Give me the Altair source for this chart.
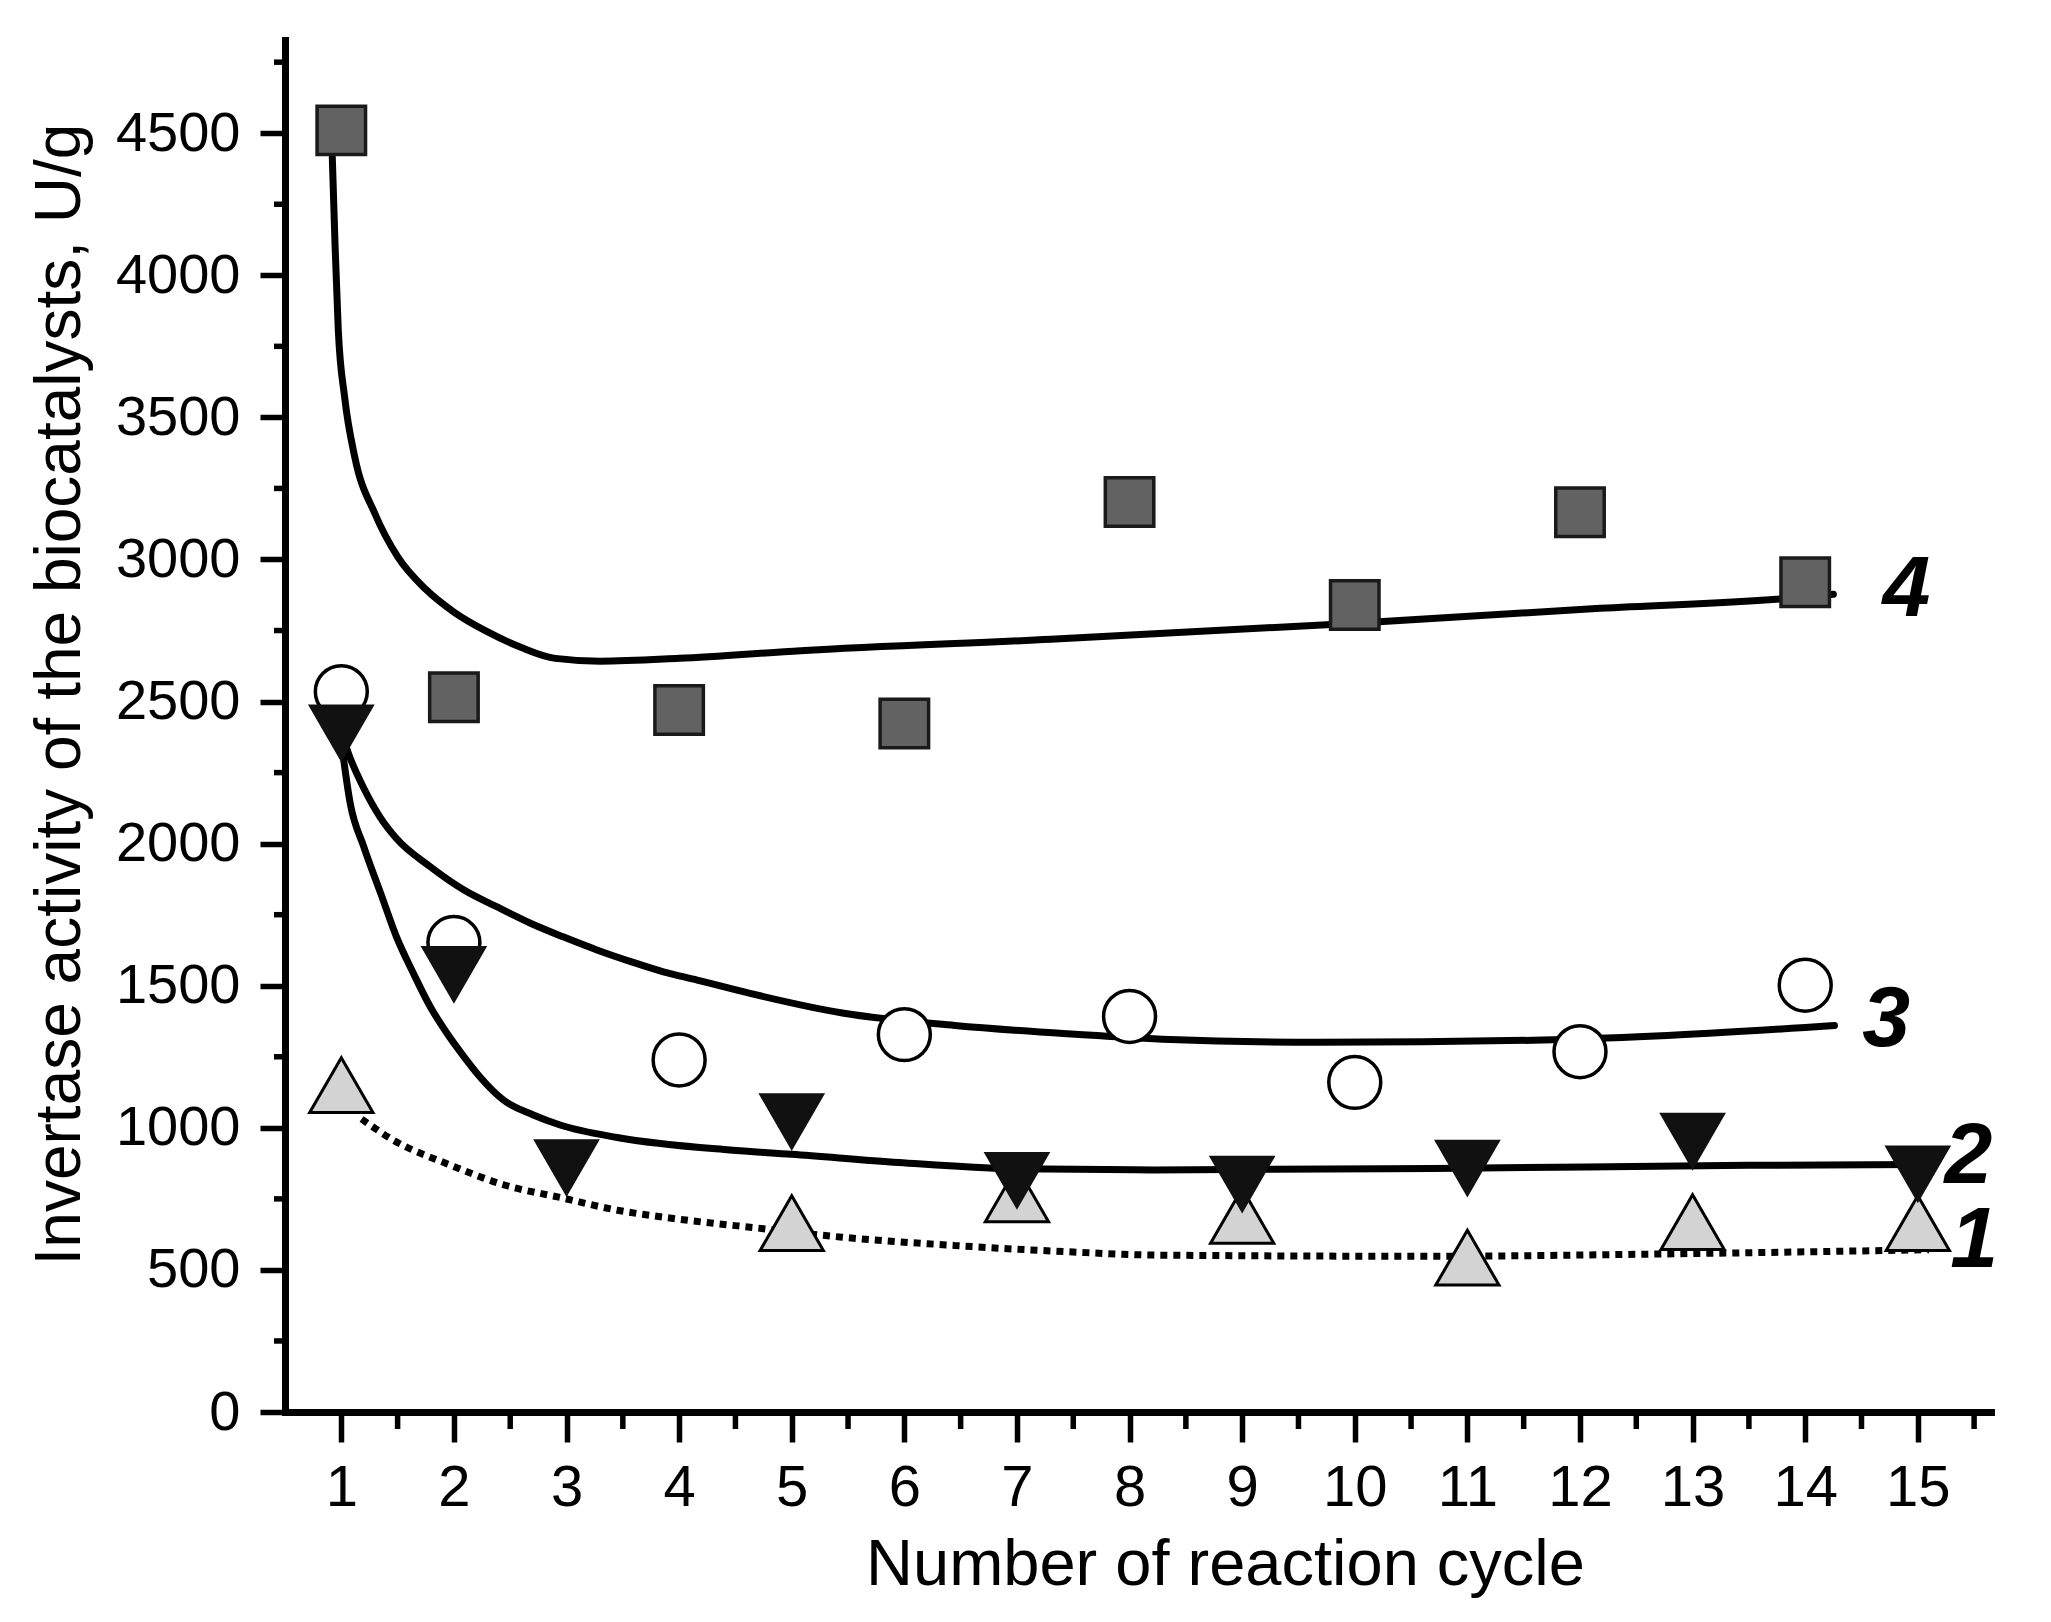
import altair as alt
import pandas as pd

# ---------------- data ----------------
# measured points
sq_x = [1, 2, 4, 6, 8, 10, 12, 14]
sq_y = [4510, 2515, 2470, 2423, 3202, 2840, 3166, 2920]

circ_x = [1, 2, 4, 6, 8, 10, 12, 14]
circ_y = [2535, 1652, 1239, 1328, 1392, 1160, 1268, 1502]

tdown_x = [1, 2, 3, 5, 7, 9, 11, 13, 15]
tdown_y = [2390, 1540, 860, 1022, 815, 802, 858, 953, 838]

tup_x = [1, 5, 7, 9, 11, 13, 15]
tup_y = [1150, 665, 766, 690, 543, 668, 665]

# fitted curves
c4_x = [0.92, 0.945, 0.973, 1.03, 1.12, 1.3, 1.5, 1.75, 2.0, 2.3, 2.6, 2.9, 3.3, 4.0, 5.08, 7.3, 9.96, 12.18, 14.0, 14.25]
c4_y = [4415, 4100, 3810, 3570, 3360, 3160, 3010, 2895, 2815, 2745, 2690, 2652, 2642, 2652, 2679, 2719, 2775, 2828, 2868, 2878]

c3_x = [1.0, 1.08, 1.2, 1.35, 1.49, 1.79, 2.09, 2.38, 2.68, 2.97, 3.27, 3.57, 3.86, 4.16, 4.63,
        5.45, 6.45, 7.44, 8.29, 9.68, 11.67, 12.67, 14.26]
c3_y = [2390, 2300, 2195, 2090, 2018, 1919, 1837, 1778, 1720, 1672, 1626, 1585, 1549, 1520, 1473,
        1404, 1360, 1331, 1312, 1301, 1309, 1323, 1360]

c2_x = [0.99, 1.08, 1.2, 1.35, 1.49, 1.64, 1.79, 1.94, 2.09, 2.23, 2.44, 2.70, 2.95, 3.45, 4.45,
        5.0, 5.95, 6.95, 8.2, 10.7, 13.5, 15.0]
c2_y = [2390, 2140, 1989, 1825, 1672, 1544, 1426, 1332, 1250, 1180, 1098, 1046, 1009, 966, 922,
        907, 878, 856, 852, 857, 868, 871]

c1_x = [1.18, 1.456, 1.955, 2.454, 2.953, 3.452, 3.95, 4.75, 5.448, 6.446, 7.444, 8.25, 10.7, 12.7, 15.1]
c1_y = [1031, 958, 871, 798, 754, 710, 681, 645, 615, 586, 564, 552, 548, 556, 571]

# curve labels
lab_text = ["4", "3", "2", "1"]
lab_x = [14.9, 14.72, 15.45, 15.5]
lab_y = [2800, 1288, 806, 512]

# axis ticks
x_ticks = [1, 2, 3, 4, 5, 6, 7, 8, 9, 10, 11, 12, 13, 14, 15]
x_minor = [1.5, 2.5, 3.5, 4.5, 5.5, 6.5, 7.5, 8.5, 9.5, 10.5, 11.5, 12.5, 13.5, 14.5, 15.5]
y_ticks = [0, 500, 1000, 1500, 2000, 2500, 3000, 3500, 4000, 4500]
y_minor = [250, 750, 1250, 1750, 2250, 2750, 3250, 3750, 4250, 4750]

# ---------------- chart ----------------
W, H = 1706, 1372
FONT = "Liberation Sans"

xs = alt.Scale(domain=[0.5, 15.65], nice=False, zero=False)
ys = alt.Scale(domain=[0, 4828], nice=False, zero=False)

x_axis = alt.Axis(
    values=x_ticks, format="d", grid=False,
    title="Number of reaction cycle",
    domainColor="black", domainWidth=7, domainCap="square",
    tickColor="black", tickWidth=5.5, tickSize=30,
    labelFont=FONT, labelFontSize=58, labelColor="black", labelPadding=17,
    labelFlush=False, labelOverlap=False,
    titleFont=FONT, titleFontSize=65, titleFontWeight="normal", titleColor="black",
    titleX=940, titleY=172, titleBaseline="alphabetic", titleAlign="center",
)
y_axis = alt.Axis(
    values=y_ticks, format="d", grid=False,
    title="Invertase activity of the biocatalysts, U/g",
    domainColor="black", domainWidth=7, domainCap="square",
    tickColor="black", tickWidth=5.5, tickSize=25,
    labelFont=FONT, labelFontSize=56, labelColor="black", labelPadding=20,
    labelFlush=False, labelOverlap=False,
    titleFont=FONT, titleFontSize=64, titleFontWeight="normal", titleColor="black",
    titleX=-206, titleY=654, titleAngle=270, titleBaseline="alphabetic", titleAlign="center",
)

X = alt.X("x:Q", scale=xs, axis=x_axis)
Y = alt.Y("v:Q", scale=ys, axis=y_axis)


def df(xv, yv):
    return pd.DataFrame({"x": xv, "v": yv})


solid = dict(color="black", strokeWidth=7, interpolate="monotone", strokeCap="round")
line4 = alt.Chart(df(c4_x, c4_y)).mark_line(**solid).encode(x=X, y=Y)
line3 = alt.Chart(df(c3_x, c3_y)).mark_line(**solid).encode(x=X, y=Y)
line2 = alt.Chart(df(c2_x, c2_y)).mark_line(**solid).encode(x=X, y=Y)
line1 = alt.Chart(df(c1_x, c1_y)).mark_line(
    color="black", strokeWidth=7, strokeDash=[7, 6], interpolate="monotone"
).encode(x=X, y=Y)

circles = alt.Chart(df(circ_x, circ_y)).mark_point(
    shape="circle", filled=True, fill="white", stroke="black", strokeWidth=3.5, size=2700, opacity=1
).encode(x=X, y=Y)
tups = alt.Chart(df(tup_x, tup_y)).mark_point(
    shape="triangle-up", filled=True, fill="#d3d3d3", stroke="black", strokeWidth=3, size=4000, opacity=1
).encode(x=X, y=Y)
squares = alt.Chart(df(sq_x, sq_y)).mark_point(
    shape="square", filled=True, fill="#626262", stroke="#1a1a1a", strokeWidth=3.5, size=2350, opacity=1
).encode(x=X, y=Y)
tdowns = alt.Chart(df(tdown_x, tdown_y)).mark_point(
    shape="triangle-down", filled=True, fill="#111111", stroke="#111111", strokeWidth=2, size=4000, opacity=1
).encode(x=X, y=Y)

labels = alt.Chart(pd.DataFrame({"x": lab_x, "v": lab_y, "t": lab_text})).mark_text(
    font=FONT, fontSize=86, fontWeight="bold", fontStyle="italic", color="black",
    align="center", baseline="alphabetic"
).encode(x=X, y=Y, text="t:N")

xminor = alt.Chart(pd.DataFrame({"x": x_minor})).mark_rule(
    color="black", strokeWidth=5.5
).encode(x=X, y=alt.value(H), y2=alt.value(H + 17))
yminor = alt.Chart(pd.DataFrame({"v": y_minor})).mark_rule(
    color="black", strokeWidth=5.5
).encode(y=Y, x=alt.value(0), x2=alt.value(-11))

chart = alt.layer(
    line1, line2, line3, line4, circles, tups, squares, tdowns, labels, xminor, yminor
).properties(
    width=W, height=H,
    autosize=alt.AutoSizeParams(type="none"),
    padding={"left": 277, "top": 32, "right": 52, "bottom": 190},
    background="white",
).configure_view(stroke=None)

chart.save("out.html", embed_options={"renderer": "svg", "actions": False})
